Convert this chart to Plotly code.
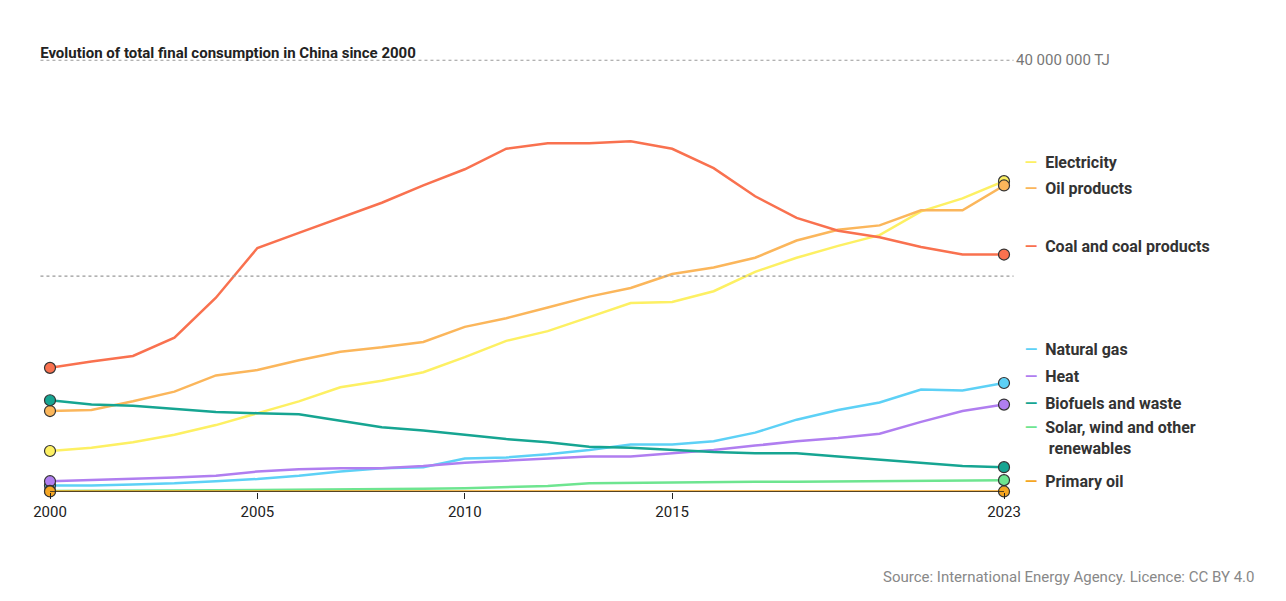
import plotly.graph_objects as go

years = list(range(2000, 2024))
coal = [11.5,12.1,12.6,14.3,18.0,22.6,24.0,25.4,26.8,28.4,29.9,31.8,32.3,32.3,32.5,31.8,30.0,27.4,25.4,24.2,23.6,22.7,22.0,22.0]
oil = [7.5,7.6,8.4,9.3,10.8,11.3,12.2,13.0,13.4,13.9,15.3,16.1,17.1,18.1,18.9,20.2,20.8,21.7,23.3,24.3,24.7,26.1,26.1,28.4]
elec = [3.8,4.1,4.6,5.3,6.2,7.3,8.4,9.7,10.3,11.1,12.5,14.0,14.9,16.2,17.5,17.6,18.6,20.4,21.7,22.8,23.8,26.0,27.2,28.8]
gas = [0.6,0.6,0.7,0.8,1.0,1.2,1.5,1.9,2.2,2.3,3.1,3.2,3.5,3.9,4.4,4.4,4.7,5.5,6.7,7.6,8.3,9.5,9.4,10.1]
heat = [1.0,1.1,1.2,1.35,1.5,1.9,2.1,2.2,2.2,2.4,2.7,2.9,3.1,3.3,3.3,3.6,3.9,4.3,4.7,5.0,5.4,6.5,7.5,8.1]
bio = [8.5,8.1,8.0,7.7,7.4,7.3,7.2,6.6,6.0,5.7,5.3,4.9,4.6,4.2,4.1,3.9,3.7,3.6,3.6,3.3,3.0,2.7,2.4,2.3]
solar = [0.1,0.1,0.12,0.14,0.16,0.18,0.2,0.22,0.25,0.3,0.35,0.45,0.55,0.8,0.85,0.9,0.95,0.95,0.95,0.97,1.0,1.02,1.05,1.1]
prim = [0.05]*24

names = ["Electricity","Oil products","Coal and coal products","Natural gas","Heat",
         "Biofuels and waste","Solar, wind and other<br>renewables","Primary oil"]
series = [elec, oil, coal, gas, heat, bio, solar, prim]
colors = ["#fdf063","#fbb65b","#f9714f","#5dd1f6","#b07ef0","#16a592","#6ee590","#f5a623"]
label_y = [30.5, 28.1, 22.7, 13.2, 10.7, 8.2, 5.0, 1.0]

fig = go.Figure()
for n, s, c in zip(names, series, colors):
    fig.add_trace(go.Scatter(x=years, y=[v*1e6 for v in s], mode="lines", line=dict(color=c, width=2.5),
                             showlegend=False, hoverinfo="skip"))
for c, s in zip(colors, series):
    fig.add_trace(go.Scatter(x=[years[0], years[-1]], y=[s[0]*1e6, s[-1]*1e6], mode="markers",
                             marker=dict(color=c, size=11, line=dict(color="#333", width=1.2)),
                             showlegend=False, hoverinfo="skip"))

for n, c, ly in zip(names, colors, label_y):
    txt = (f"<span style='color:{c}'><b>—</b></span>  <b>{n}</b>" if "<br>" not in n else
           f"<span style='color:{c}'><b>—</b></span>  <b>Solar, wind and other</b><br>      <b>renewables</b>")
    fig.add_annotation(x=1.02, xref="paper", y=ly*1e6, yref="y", xanchor="left", showarrow=False,
                       align="left", text=txt, font=dict(size=16, color="#333", family="Roboto"))

for v in [20e6, 40e6]:
    fig.add_shape(type="line", xref="paper", x0=-0.01, x1=1.01, y0=v, y1=v,
                  line=dict(color="#999", width=1.2, dash="dot"))
fig.add_shape(type="line", xref="paper", x0=0, x1=1.0, y0=0, y1=0, line=dict(color="#222", width=1.5))
fig.add_annotation(x=1.01, xref="paper", y=40e6, yref="y", xanchor="left", showarrow=False,
                   text="40 000 000 TJ", font=dict(size=15, color="#777", family="Roboto"))

fig.update_layout(
    width=1286, height=601, paper_bgcolor="white", plot_bgcolor="white",
    margin=dict(l=42, r=290, t=49, b=117),
    title=dict(text="<b>Evolution of total final consumption in China since 2000</b>", x=0.025, y=0.935,
               font=dict(size=15, color="#222", family="Roboto")),
    xaxis=dict(range=[2000, 2023], tickvals=[2000, 2005, 2010, 2015, 2023], showgrid=False, zeroline=False,
               ticks="outside", ticklen=6, tickcolor="#222", tickfont=dict(size=15, color="#222", family="Roboto")),
    yaxis=dict(range=[0, 40.3e6], showgrid=False, zeroline=False, showticklabels=False),
)
fig.add_annotation(x=1.0, xref="paper", y=-0.17, yref="paper", xanchor="right", yanchor="top",
                   xshift=252, showarrow=False, text="Source: International Energy Agency. Licence: CC BY 4.0",
                   font=dict(size=15, color="#888", family="Roboto"))
fig.update_traces(cliponaxis=False)
fig.write_html("out.html")
